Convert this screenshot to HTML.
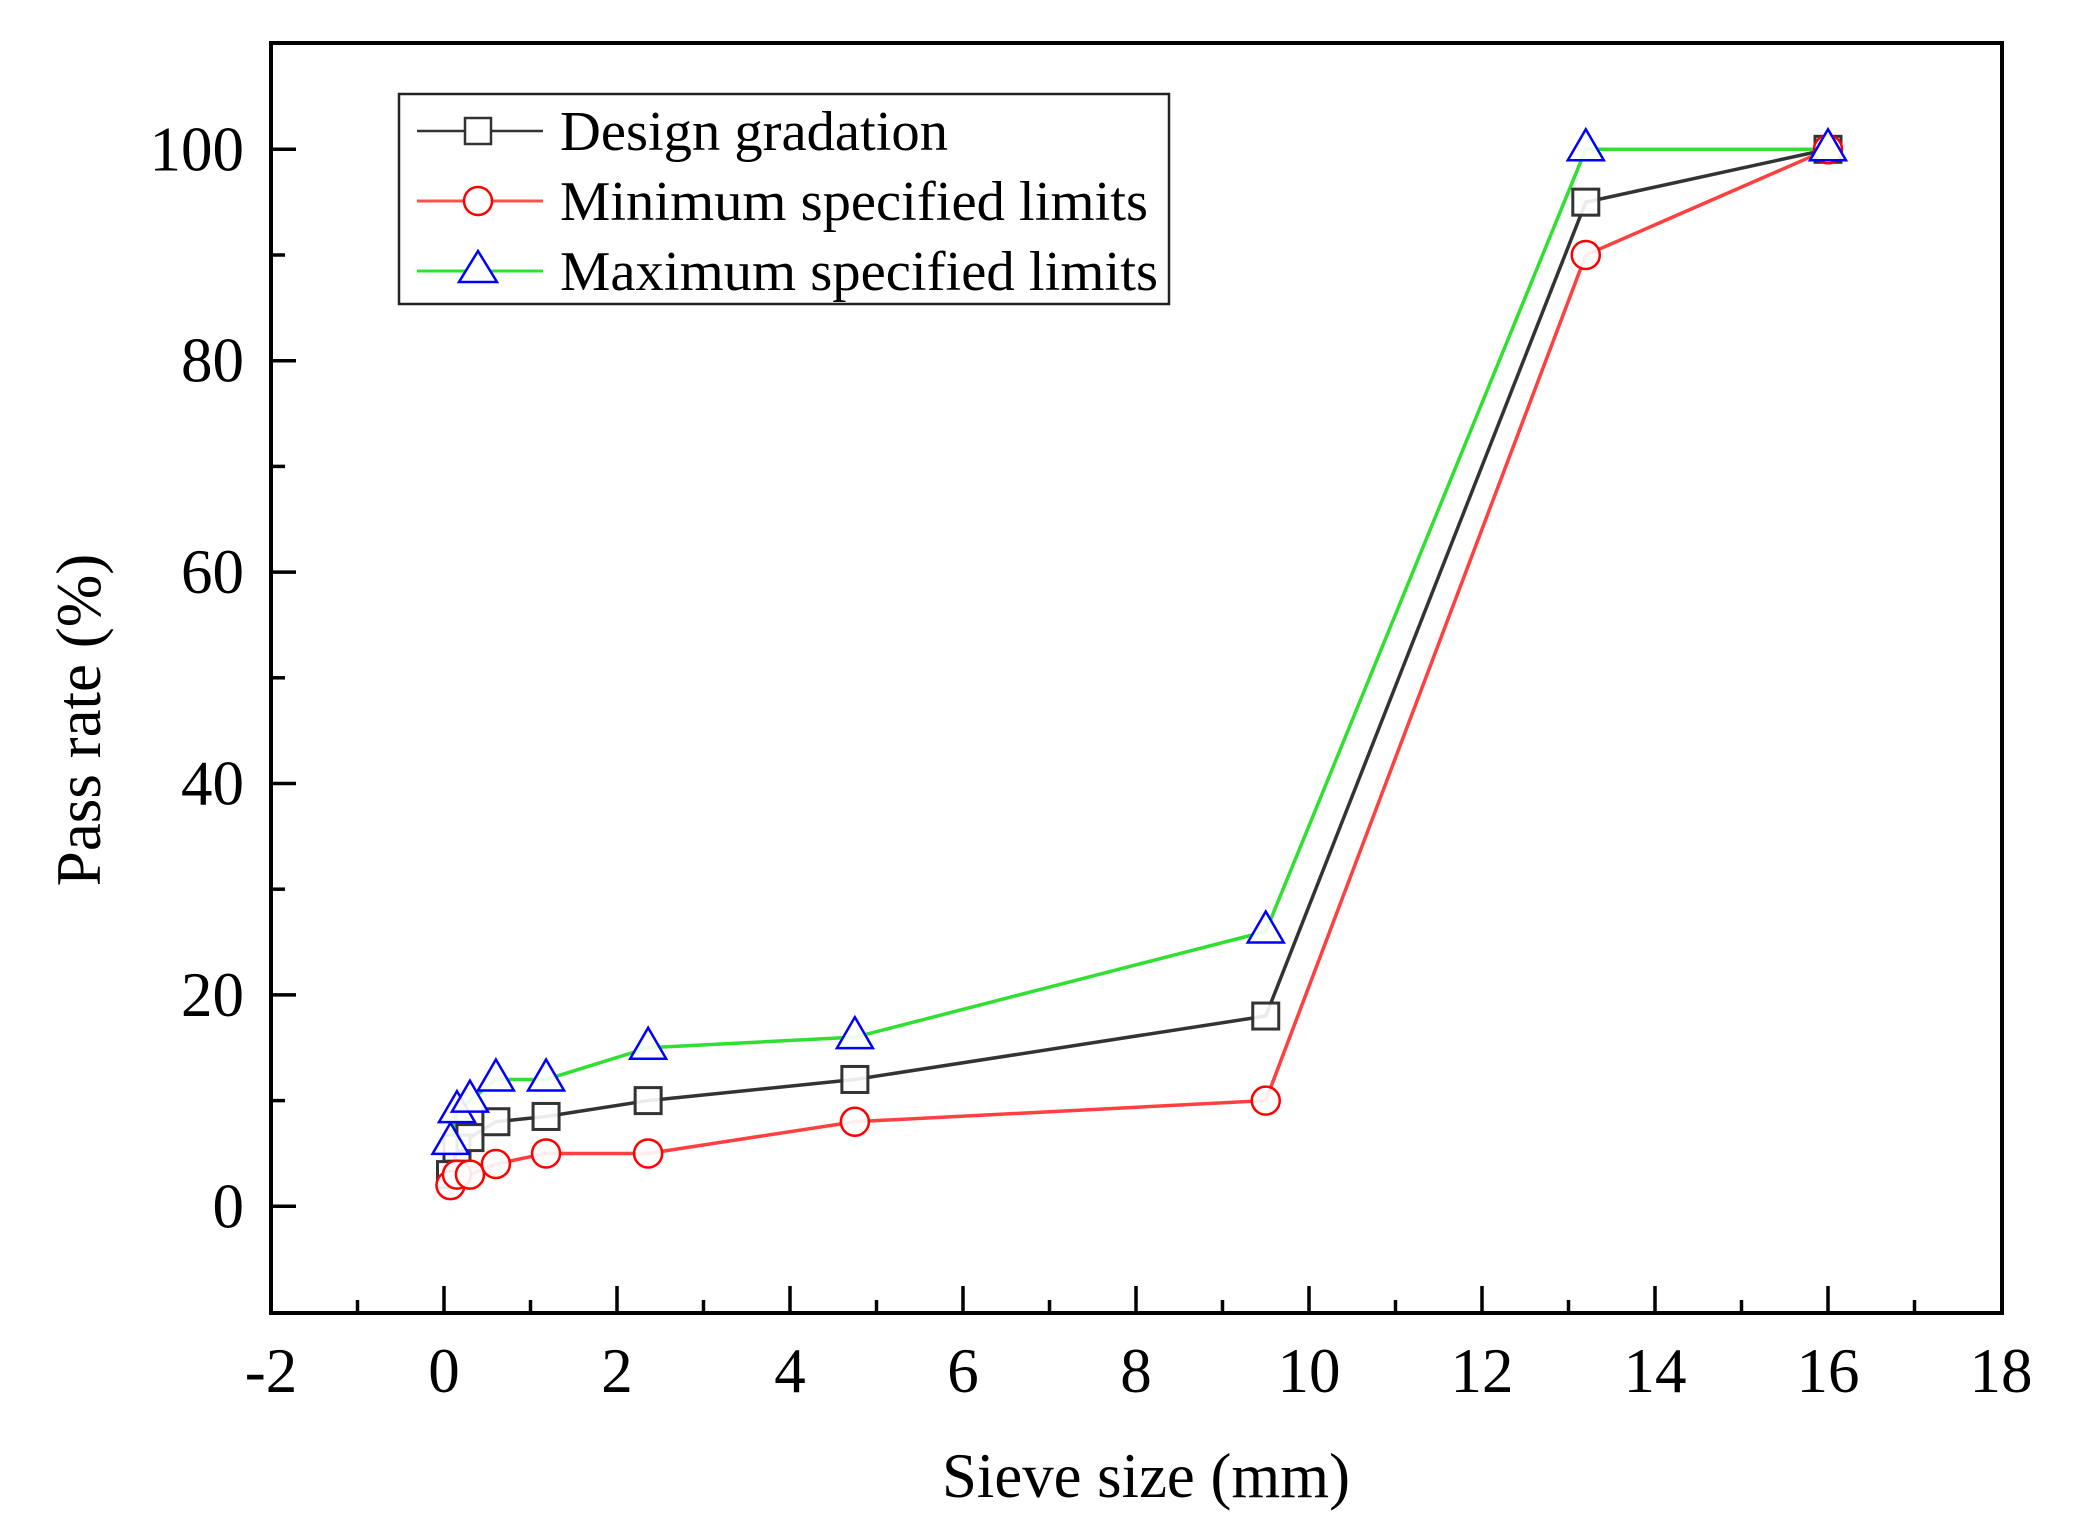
<!DOCTYPE html>
<html><head><meta charset="utf-8"><style>
html,body{margin:0;padding:0;background:#fff;}
svg{display:block;}
text{font-family:"Liberation Serif",serif;fill:#000;}
</style></head><body>
<svg width="2090" height="1536" viewBox="0 0 2090 1536" xmlns="http://www.w3.org/2000/svg">
<rect width="2090" height="1536" fill="#fff"/>
<g id="ticks" stroke="#000" stroke-width="3.5">
</g>
<rect x="271" y="43" width="1731" height="1270" fill="none" stroke="#000" stroke-width="4"/>
<g id="series"></g>
<g id="labels" font-size="63"></g>
<text x="1146" y="1497" font-size="63" text-anchor="middle" textLength="408" lengthAdjust="spacingAndGlyphs">Sieve size (mm)</text>
<text transform="translate(100,720) rotate(-90)" font-size="63" text-anchor="middle">Pass rate (%)</text>
<rect x="399" y="94" width="770" height="210" fill="#fff" stroke="#222" stroke-width="2.5"/>
<line x1="417" y1="131" x2="543" y2="131" stroke="#333" stroke-width="2.5"/>
<rect x="465" y="118" width="26" height="26" fill="#fff" stroke="#333" stroke-width="2.5"/>
<line x1="417" y1="201" x2="543" y2="201" stroke="#ff5050" stroke-width="3"/>
<circle cx="478" cy="201" r="14" fill="#fff" stroke="#f00" stroke-width="2.5"/>
<line x1="417" y1="271" x2="543" y2="271" stroke="#30e030" stroke-width="3"/>
<polygon points="478,251 497,282 459,282" fill="#fff" stroke="#00f" stroke-width="2.5"/>
<text x="560" y="150" font-size="56" textLength="388" lengthAdjust="spacingAndGlyphs">Design gradation</text>
<text x="560" y="220" font-size="56" textLength="588" lengthAdjust="spacingAndGlyphs">Minimum specified limits</text>
<text x="560" y="290" font-size="56" textLength="598" lengthAdjust="spacingAndGlyphs">Maximum specified limits</text>
<script>
(function(){
var NS="http://www.w3.org/2000/svg";
function X(v){return 271+(v+2)*86.5;}
function Y(v){return 1206.3-v*10.57;}
function el(p,t,a,txt){var e=document.createElementNS(NS,t);for(var k in a)e.setAttribute(k,a[k]);if(txt!=null)e.textContent=txt;p.appendChild(e);return e;}
var tk=document.getElementById('ticks'),lb=document.getElementById('labels');
for(var v=-2;v<=18;v+=1){var maj=(v%2===0);if(v>-2&&v<18)el(tk,'line',{x1:X(v),x2:X(v),y1:1313,y2:1313-(maj?27:13)});
 if(maj)el(lb,'text',{x:X(v),y:1392,'text-anchor':'middle'},String(v));}
for(var v=-10;v<=110;v+=10){var maj=(v%20===0);if(v>-10&&v<110)el(tk,'line',{x1:271,x2:271+(maj?25:14),y1:Y(v),y2:Y(v)});
 if(maj&&v>=0)el(lb,'text',{x:244,y:Y(v)+21,'text-anchor':'end'},String(v));}
var xs=[0.075,0.15,0.3,0.6,1.18,2.36,4.75,9.5,13.2,16];
var des=[3,5.5,6.5,8,8.5,10,12,18,95,100];
var mn=[2,3,3,4,5,5,8,10,90,100];
var mx=[6,9,10,12,12,15,16,26,100,100];
var sg=document.getElementById('series');
function line(d,c,w){var p=d.map(function(v,i){return X(xs[i])+','+Y(v);}).join(' ');el(sg,'polyline',{points:p,fill:'none',stroke:c,'stroke-width':w});}
line(mx,'#30e030',3.5);line(des,'#333',3.5);line(mn,'#ff4040',3.5);
des.forEach(function(v,i){el(sg,'rect',{x:X(xs[i])-13,y:Y(v)-13,width:26,height:26,fill:'#fff','fill-opacity':0.9,stroke:'#333','stroke-width':3});});
mn.forEach(function(v,i){el(sg,'circle',{cx:X(xs[i]),cy:Y(v),r:14,fill:'#fff','fill-opacity':0.9,stroke:'#f00','stroke-width':2.5});});
mx.forEach(function(v,i){var x=X(xs[i]),y=Y(v);el(sg,'polygon',{points:x+','+(y-20)+' '+(x+18)+','+(y+11)+' '+(x-18)+','+(y+11),fill:'#fff','fill-opacity':0.9,stroke:'#00f','stroke-width':2.5});});
})();
</script>
</svg>
</body></html>
